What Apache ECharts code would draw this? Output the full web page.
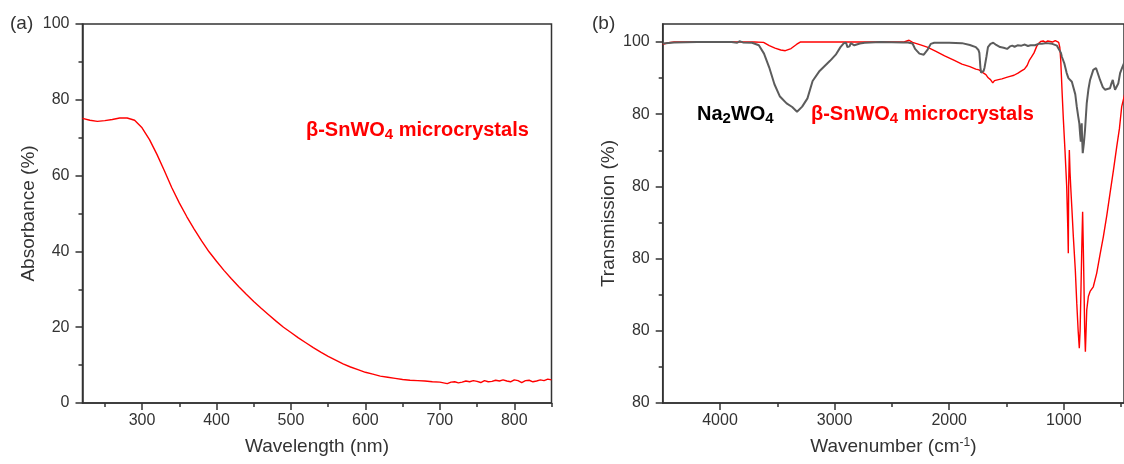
<!DOCTYPE html>
<html>
<head>
<meta charset="utf-8">
<script src="https://cdn.jsdelivr.net/npm/echarts@6/dist/echarts.min.js"></script>
<style>
  html, body { margin: 0; padding: 0; background: #fff; }
  #main { width: 1124px; height: 464px; }
</style>
</head>
<body>
<div id="main"></div>
<script>
// (a) UV-vis absorbance of the beta-SnWO4 microcrystals
const wavelength = [220, 230, 240, 250, 260, 270, 280, 290, 300, 310, 320, 330, 340, 350, 360, 370, 380, 390, 400,
  410, 420, 430, 440, 450, 460, 470, 480, 490, 500, 510, 520, 530, 540, 550, 560, 570, 580, 590, 600,
  610, 620, 630, 640, 650, 660, 670, 680, 690, 700, 705, 710, 715, 720, 725, 730, 735, 740, 745, 750, 755,
  760, 765, 770, 775, 780, 785, 790, 795, 800, 805, 810, 815, 820, 825, 830, 835, 840, 845, 850];
const absorbance = [75.1, 74.6, 74.3, 74.5, 74.8, 75.2, 75.2, 74.6, 72.6, 69.5, 65.6, 61.3, 56.8, 52.8, 49.2, 45.9, 42.8, 39.9, 37.4,
  35.0, 32.8, 30.7, 28.7, 26.8, 25.0, 23.3, 21.6, 20.0, 18.6, 17.2, 15.9, 14.6, 13.4, 12.3, 11.3, 10.3, 9.5, 8.8, 8.1,
  7.6, 7.1, 6.8, 6.5, 6.2, 6.0, 5.9, 5.8, 5.6, 5.5, 5.3, 5.1, 5.5, 5.6, 5.3, 5.5, 5.8, 5.6, 5.9, 5.7, 5.4,
  5.9, 5.6, 5.7, 6.0, 5.8, 6.1, 5.8, 5.6, 6.1, 5.9, 5.4, 5.9, 6.0, 5.6, 5.8, 6.1, 5.9, 6.3, 6.1];
const wavelengthTicks = [300, 400, 500, 600, 700, 800];
const wavelengthMinorTicks = [250, 350, 450, 550, 650, 750, 850];

// (b) FTIR transmission
const snWavenumber = [4500, 4450, 4400, 3700, 3620, 3570, 3520, 3470, 3430, 3380, 3330, 3300, 2400, 2370, 2350, 2320,
  2250, 2192, 2120, 2040, 1960, 1889, 1820, 1768, 1740, 1707, 1680, 1660, 1640, 1620, 1605, 1590, 1570, 1540,
  1500, 1470, 1435, 1400, 1370, 1344, 1320, 1300, 1283, 1260, 1237, 1220, 1200, 1180, 1160, 1140, 1100, 1075,
  1062, 1045, 1035, 1027, 1015, 1004, 990, 975, 965, 961, 958, 952, 946, 940, 930, 917, 900, 887, 875, 865,
  858, 850, 842, 836, 830, 824, 818, 812, 806, 800, 786, 771, 743, 713, 685, 655, 625, 597, 567, 538, 515,
  495, 474, 450];
const snTransmission = [99.4, 99.8, 100, 100, 99.9, 99.0, 98.3, 97.8, 97.6, 98.2, 99.4, 100, 100, 100.3, 100.5, 99.9,
  99.2, 98.6, 97.5, 96.2, 95.0, 93.9, 93.2, 92.5, 92.3, 91.5, 91.0, 90.1, 89.6, 88.7, 89.3, 88.9, 89.6, 89.8,
  90.2, 90.5, 90.8, 91.4, 92.0, 92.5, 93.5, 95.0, 95.8, 97.0, 98.8, 99.6, 100.2, 100.3, 99.9, 100.3, 100.0, 100.4,
  100.2, 99.9, 98.5, 95.0, 86.0, 78.5, 70.0, 60.0, 48.0, 41.5, 60.0, 70.1, 64.0, 60.0, 54.0, 46.1, 37.0, 27.6, 20.0, 15.2,
  20.0, 32.2, 45.0, 53.0, 43.0, 32.2, 20.0, 14.2, 20.0, 25.8, 29.5, 30.9, 32.2, 36.0, 41.0, 46.1, 52.0, 58.1, 64.5, 71.1, 76.0,
  82.1, 84.9, 88.0];
const naWavenumber = [4500, 4400, 4200, 3900, 3850, 3830, 3800, 3720, 3707, 3661, 3616, 3571, 3525, 3479, 3419, 3370,
  3328, 3283, 3237, 3192, 3131, 3040, 2990, 2949, 2919, 2900, 2888, 2870, 2859, 2828, 2780, 2737, 2600, 2400,
  2359, 2343, 2320, 2298, 2260, 2222, 2190, 2161, 2131, 2000, 1889, 1820, 1768, 1745, 1737, 1728, 1722, 1707,
  1700, 1692, 1675, 1662, 1640, 1616, 1590, 1556, 1525, 1495, 1470, 1450, 1430, 1404, 1370, 1340, 1313, 1290,
  1252, 1220, 1192, 1150, 1101, 1092, 1060, 1048, 1025, 1018, 995, 975, 960, 946, 930, 917, 900, 887, 875, 865,
  858, 852, 848, 844, 840, 835, 825, 815, 800, 785, 771, 743, 730, 719, 700, 684, 660, 641, 620, 597, 585, 573,
  563, 553, 538, 525, 509, 490, 474, 450];
const naTransmission = [99.6, 99.9, 100, 100, 99.8, 100.2, 99.9, 99.8, 99.8, 99.1, 96.8, 93.0, 88.3, 85.0, 83.0, 82.0,
  80.7, 82.1, 84.4, 89.2, 92.0, 94.8, 96.5, 98.6, 99.7, 99.8, 98.6, 98.8, 99.7, 99.1, 99.6, 99.8, 100, 99.9,
  99.9, 100.4, 99.6, 98.1, 96.8, 96.5, 97.8, 99.5, 99.8, 99.8, 99.7, 99.2, 98.6, 97.8, 97.0, 93.0, 91.5, 91.5,
  92.0, 92.9, 96.0, 98.6, 99.5, 99.8, 99.2, 98.6, 98.4, 98.1, 98.8, 99.0, 98.7, 99.1, 99.0, 99.3, 98.9, 99.1,
  99.1, 99.5, 99.5, 99.7, 99.5, 99.7, 99.0, 98.3, 97.0, 96.0, 94.0, 91.4, 90.0, 89.5, 89.0, 88.6, 85.5, 82.1, 79.5, 77.5,
  74.5, 72.4, 76.0, 77.5, 73.0, 69.2, 72.0, 75.7, 83.1, 87.0, 89.5, 92.3, 92.8, 92.8, 91.0, 89.5, 87.5, 86.8, 87.0, 87.2, 88.5, 89.5,
  88.0, 86.8, 86.3, 88.5, 91.4, 93.0, 94.2, 95.5];
const wavenumberTicks = [1000, 2000, 3000, 4000];
const wavenumberMinorTicks = [500, 1500, 2500, 3500];
const transTickValues = [0, 20, 40, 60, 80, 100];
const transTickLabels = ['80', '80', '80', '80', '80', '100'];
const transMinorTicks = [10, 30, 50, 70, 90];

const FONT = 'Liberation Sans, Arial, sans-serif';
const INK = '#333';

function pairs(xs, ys) {
  return xs.map(function (x, i) { return [x, ys[i]]; });
}

// axis that only draws short minor ticks on top of the main one
function minorAxis(gridIndex, position, min, max, values, inverse) {
  return {
    type: 'value', gridIndex: gridIndex, position: position, min: min, max: max, inverse: !!inverse,
    axisLine: { show: false },
    axisLabel: { show: false },
    splitLine: { show: false },
    axisTick: { show: true, inside: false, length: 4, customValues: values, lineStyle: { color: INK, width: 1.5 } }
  };
}

const labelStyle = { fontFamily: FONT, fontSize: 16, color: INK };
const nameStyle = {
  fontFamily: FONT, fontSize: 19, color: INK,
  rich: { sup: { fontFamily: FONT, fontSize: 12, color: INK, verticalAlign: 'top', lineHeight: 12 } }
};
const plain = function (v) { return String(v); };

const option = {
  animation: false,
  backgroundColor: '#fff',
  grid: [
    { left: 82.5, top: 24, width: 469, height: 379, show: true, borderColor: INK, borderWidth: 1.5, outerBoundsMode: 'none' },
    { left: 662.7, top: 24, right: 0, height: 379, show: true, borderColor: INK, borderWidth: 1.5, outerBoundsMode: 'none' }
  ],
  xAxis: [
    {
      type: 'value', gridIndex: 0, min: 220, max: 850,
      name: 'Wavelength (nm)', nameLocation: 'middle', nameGap: 34, nameTextStyle: nameStyle,
      axisLine: { lineStyle: { color: INK, width: 1.5 } },
      axisTick: { length: 7, customValues: wavelengthTicks, lineStyle: { color: INK, width: 1.5 } },
      axisLabel: Object.assign({ margin: 10, customValues: wavelengthTicks, formatter: plain }, labelStyle),
      splitLine: { show: false }
    },
    minorAxis(0, 'bottom', 220, 850, wavelengthMinorTicks),
    {
      type: 'value', gridIndex: 1, min: 475, max: 4500, inverse: true,
      name: 'Wavenumber (cm{sup|-1})', nameLocation: 'middle', nameGap: 34, nameTextStyle: nameStyle,
      axisLine: { lineStyle: { color: INK, width: 1.5 } },
      axisTick: { length: 7, customValues: wavenumberTicks, lineStyle: { color: INK, width: 1.5 } },
      axisLabel: Object.assign({ margin: 10, customValues: wavenumberTicks, formatter: plain }, labelStyle),
      splitLine: { show: false }
    },
    minorAxis(1, 'bottom', 475, 4500, wavenumberMinorTicks, true)
  ],
  yAxis: [
    {
      type: 'value', gridIndex: 0, min: 0, max: 100, interval: 20,
      name: 'Absorbance (%)', nameLocation: 'middle', nameGap: 44, nameTextStyle: nameStyle,
      axisLine: { show: true, lineStyle: { color: INK, width: 1.5 } },
      axisTick: { show: true, length: 7, lineStyle: { color: INK, width: 1.5 } },
      minorTick: { show: true, splitNumber: 2, length: 4, lineStyle: { color: INK, width: 1.5 } },
      axisLabel: Object.assign({ margin: 13, formatter: plain }, labelStyle),
      splitLine: { show: false }
    },
    {
      type: 'value', gridIndex: 1, min: 0, max: 105,
      name: 'Transmission (%)', nameLocation: 'middle', nameGap: 44, nameTextStyle: nameStyle,
      axisLine: { show: true, lineStyle: { color: INK, width: 1.5 } },
      axisTick: { show: true, length: 7, customValues: transTickValues, lineStyle: { color: INK, width: 1.5 } },
      axisLabel: Object.assign({
        margin: 13, customValues: transTickValues,
        formatter: function (v) { return transTickLabels[transTickValues.indexOf(v)]; }
      }, labelStyle),
      splitLine: { show: false }
    },
    minorAxis(1, 'left', 0, 105, transMinorTicks)
  ],
  graphic: [
    { type: 'text', left: 10, top: 14, style: { text: '(a)', fontFamily: FONT, fontSize: 19, fill: INK } },
    { type: 'text', left: 592, top: 14, style: { text: '(b)', fontFamily: FONT, fontSize: 19, fill: INK } },
    {
      type: 'text', left: 306, top: 120,
      style: {
        text: '{m|\u03b2-SnWO}{s|4}{m| microcrystals}',
        rich: {
          m: { fontFamily: FONT, fontSize: 20, fontWeight: 'bold', fill: '#ff0000', lineHeight: 25 },
          s: { fontFamily: FONT, fontSize: 15, fontWeight: 'bold', fill: '#ff0000', lineHeight: 15, verticalAlign: 'bottom' }
        }
      }
    },
    {
      type: 'text', left: 697, top: 104,
      style: {
        text: '{m|Na}{s|2}{m|WO}{s|4}',
        rich: {
          m: { fontFamily: FONT, fontSize: 20, fontWeight: 'bold', fill: '#000', lineHeight: 25 },
          s: { fontFamily: FONT, fontSize: 15, fontWeight: 'bold', fill: '#000', lineHeight: 15, verticalAlign: 'bottom' }
        }
      }
    },
    {
      type: 'text', left: 811, top: 104,
      style: {
        text: '{m|\u03b2-SnWO}{s|4}{m| microcrystals}',
        rich: {
          m: { fontFamily: FONT, fontSize: 20, fontWeight: 'bold', fill: '#ff0000', lineHeight: 25 },
          s: { fontFamily: FONT, fontSize: 15, fontWeight: 'bold', fill: '#ff0000', lineHeight: 15, verticalAlign: 'bottom' }
        }
      }
    }
  ],
  series: [
    {
      type: 'line', xAxisIndex: 0, yAxisIndex: 0, data: pairs(wavelength, absorbance),
      showSymbol: false, lineStyle: { color: '#ff0000', width: 1.4 }
    },
    {
      type: 'line', xAxisIndex: 2, yAxisIndex: 1, data: pairs(snWavenumber, snTransmission),
      showSymbol: false, lineStyle: { color: '#ff0000', width: 1.4 }
    },
    {
      type: 'line', xAxisIndex: 2, yAxisIndex: 1, data: pairs(naWavenumber, naTransmission),
      showSymbol: false, lineStyle: { color: '#5c5c5c', width: 2 }
    }
  ]
};

const chart = echarts.init(document.getElementById('main'), null, { renderer: 'canvas' });
chart.setOption(option);
</script>
</body>
</html>
